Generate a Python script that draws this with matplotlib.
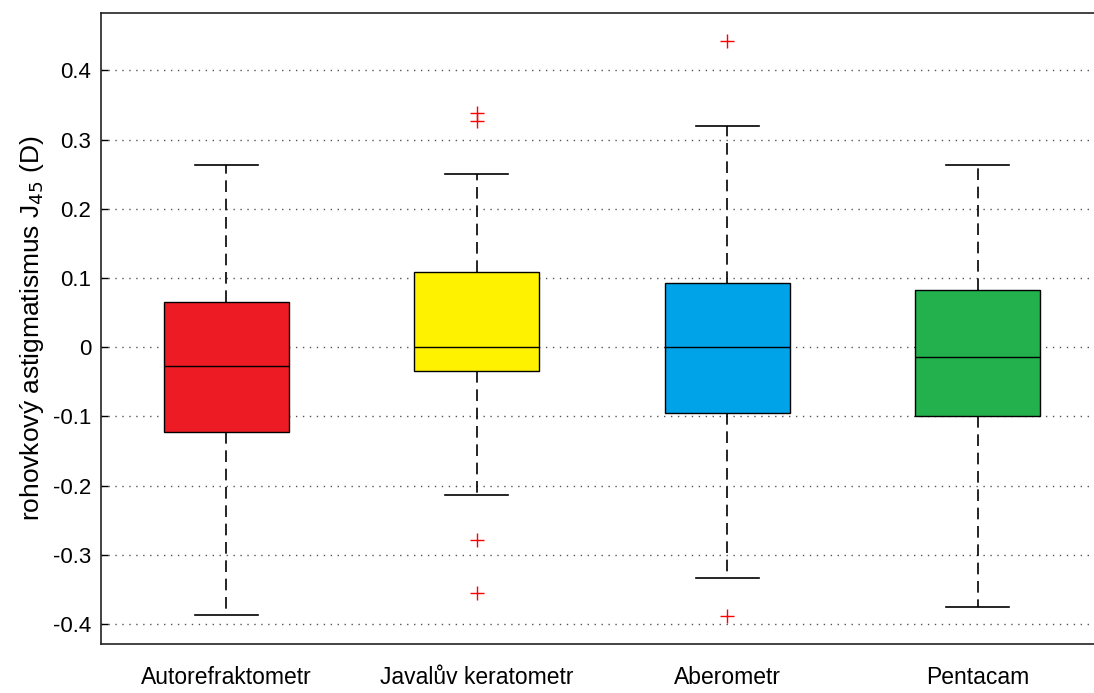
import matplotlib
matplotlib.use("Agg")
import matplotlib.pyplot as plt

plt.rcParams['font.family'] = ['Liberation Sans', 'DejaVu Sans']

categories = ["Autorefraktometr", "Javalův keratometr", "Aberometr", "Pentacam"]
whisker_low = [-0.387, -0.213, -0.334, -0.375]
q1 = [-0.122, -0.034, -0.095, -0.100]
medians = [-0.027, 0.000, 0.000, -0.014]
q3 = [0.065, 0.109, 0.093, 0.082]
whisker_high = [0.263, 0.250, 0.319, 0.264]
outliers = [[], [0.338, 0.327, -0.279, -0.355], [0.443, -0.388], []]
colors = ["#ED1C24", "#FFF200", "#00A2E8", "#22B14C"]
yticks = [-0.4, -0.3, -0.2, -0.1, 0, 0.1, 0.2, 0.3, 0.4]
ytick_labels = ["-0.4", "-0.3", "-0.2", "-0.1", "0", "0.1", "0.2", "0.3", "0.4"]

stats = []
for i, name in enumerate(categories):
    stats.append(dict(label=name, whislo=whisker_low[i], q1=q1[i], med=medians[i],
                      q3=q3[i], whishi=whisker_high[i], fliers=outliers[i]))

fig = plt.figure(figsize=(10.94, 6.93), dpi=100)
ax = fig.add_axes([101 / 1094, 49 / 693, 1002 / 1094, 631 / 693])

positions = [1, 2, 3, 4]
bp = ax.bxp(stats, positions=positions, widths=0.5, patch_artist=True,
            boxprops=dict(edgecolor="black", linewidth=1.0),
            medianprops=dict(color="black", linewidth=1.0),
            whiskerprops=dict(color="black", linewidth=1.2, linestyle=(0, (7, 4))),
            capprops=dict(color="black", linewidth=1.2),
            capwidths=0.25,
            flierprops=dict(marker="+", markeredgecolor="red", markersize=10,
                            markeredgewidth=1.0, linestyle="none"),
            zorder=3)
for patch, c in zip(bp["boxes"], colors):
    patch.set_facecolor(c)

ax.set_xlim(0.5, 4.5)
ax.set_ylim(-0.429, 0.483)
ax.set_yticks(yticks)
ax.set_yticklabels(ytick_labels)
ax.yaxis.grid(True, linestyle=(0, (1, 4)), color="#555555", linewidth=1.0, zorder=0)
ax.set_axisbelow(True)

ax.tick_params(axis="y", direction="in", length=5, width=1, labelsize=16, pad=7)
ax.tick_params(axis="x", length=0, labelsize=16.5, pad=16)
ax.set_xticks(positions)
ax.set_xticklabels(categories)

for side in ["left", "bottom", "top"]:
    ax.spines[side].set_linewidth(1.2)
    ax.spines[side].set_color("#222222")
ax.spines["right"].set_visible(False)

ax.set_ylabel("rohovkový astigmatismus J$_{45}$ (D)", fontsize=19, labelpad=5)

fig.savefig("out.png", dpi=100)
